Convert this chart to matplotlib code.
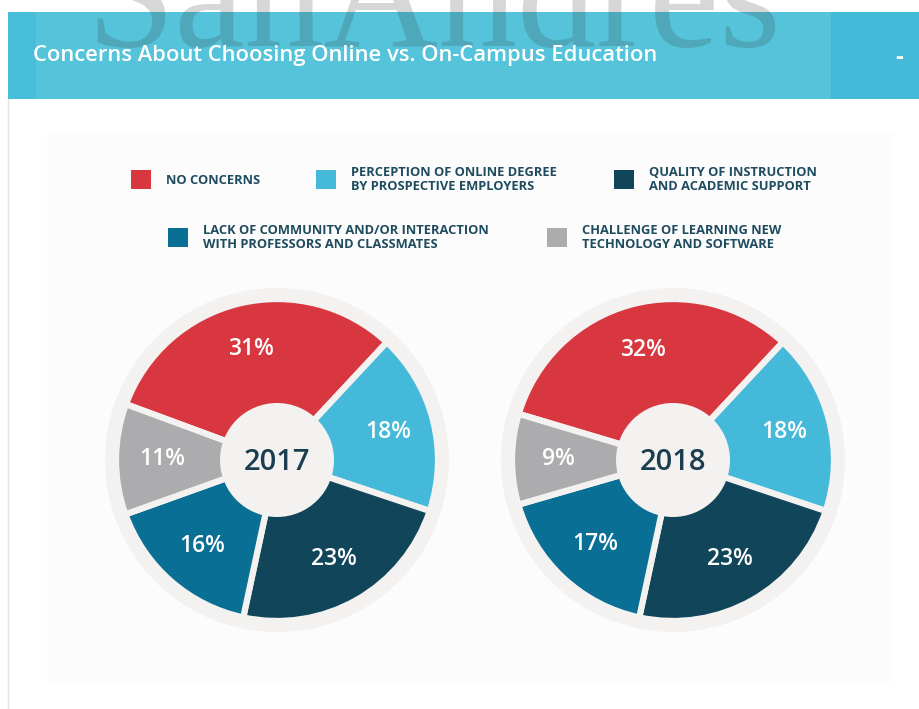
import matplotlib.pyplot as plt
from matplotlib.patches import Rectangle, Circle

W, H = 920, 709

title = 'Concerns About Choosing Online vs. On-Campus Education'
categories = [
    'NO CONCERNS',
    'PERCEPTION OF ONLINE DEGREE\nBY PROSPECTIVE EMPLOYERS',
    'QUALITY OF INSTRUCTION\nAND ACADEMIC SUPPORT',
    'LACK OF COMMUNITY AND/OR INTERACTION\nWITH PROFESSORS AND CLASSMATES',
    'CHALLENGE OF LEARNING NEW\nTECHNOLOGY AND SOFTWARE',
]
colors = ['#d8373f', '#45b9d9', '#114559', '#0a6f94', '#acabad']
years = ['2017', '2018']
share_2017 = [31, 18, 23, 16, 11]
share_2018 = [32, 18, 23, 17, 9]

plt.rcParams['font.family'] = ['Open Sans', 'DejaVu Sans']

def Y(py):
    # pixel rows counted from the top
    return H - py

fig = plt.figure(figsize=(W / 100, H / 100), dpi=100)
ax = fig.add_axes([0, 0, 1, 1])

# page background, light panel and left border
fig.patch.set_facecolor('white')
ax.add_patch(Rectangle((47, Y(682)), 846, 682 - 133, fc='#fcfcfc', ec='none', zorder=0))
ax.plot([8.5, 8.5], [0, Y(99)], color='#e4e4e4', lw=1, zorder=0)

# header bar
ax.add_patch(Rectangle((8, Y(99)), W - 8, 87, fc='#55c3da', ec='none', zorder=1))
ax.add_patch(Rectangle((8, Y(99)), 28, 87, fc='#47bdd9', ec='none', zorder=1))
ax.add_patch(Rectangle((831, Y(99)), W - 831, 87, fc='#43bbd8', ec='none', zorder=1))
ax.text(86, Y(46), 'SanAndres', family='Liberation Serif', fontsize=114,
        color='#3a3a3a', alpha=0.2, ha='left', va='baseline', zorder=2)
ax.text(33, Y(56), title, color='white', fontsize=15.8, fontweight=600,
        ha='left', va='center', zorder=3)
ax.text(899, Y(58), '-', color='white', fontsize=17, fontweight='bold',
        ha='center', va='center', zorder=3)

# legend
legend_pos = [(131, 170), (316, 170), (614, 170), (168, 228), (547, 228)]
for (lx, ly), lab, col in zip(legend_pos, categories, colors):
    ax.add_patch(Rectangle((lx, Y(ly + 19)), 20, 19, fc=col, ec='none', zorder=3))
    ax.text(lx + 35, Y(ly + 10), lab, color='#1f4b5f', fontsize=9.3, fontweight='bold',
            ha='left', va='center', linespacing=1.1, zorder=3)

# pies
ring = '#f4f2f0'
centers = [(277, 460), (673, 460)]
for (cx, cy), yr, vals in zip(centers, years, [share_2017, share_2018]):
    total = sum(vals)
    ax.add_patch(Circle((cx, Y(cy)), 172, fc=ring, ec='none', zorder=1))
    ax.pie(vals, colors=colors, radius=161, center=(cx, Y(cy)),
           startangle=47 + 360 * vals[0] / total, counterclock=False,
           wedgeprops=dict(edgecolor=ring, linewidth=4.5),
           autopct=lambda p, t=total: f'{round(p * t / 100)}%', pctdistance=0.71,
           textprops=dict(color='white', fontsize=16.5, fontweight=600))
    ax.add_patch(Circle((cx, Y(cy)), 57, fc=ring, ec='none', zorder=4))
    ax.text(cx, Y(cy + 2), yr, color='#1b3d50', fontsize=21, fontweight=600,
            ha='center', va='center', zorder=5)

ax.set_xlim(0, W)
ax.set_ylim(0, H)
ax.set_aspect('auto')
ax.axis('off')

fig.savefig('out.png', dpi=100)
